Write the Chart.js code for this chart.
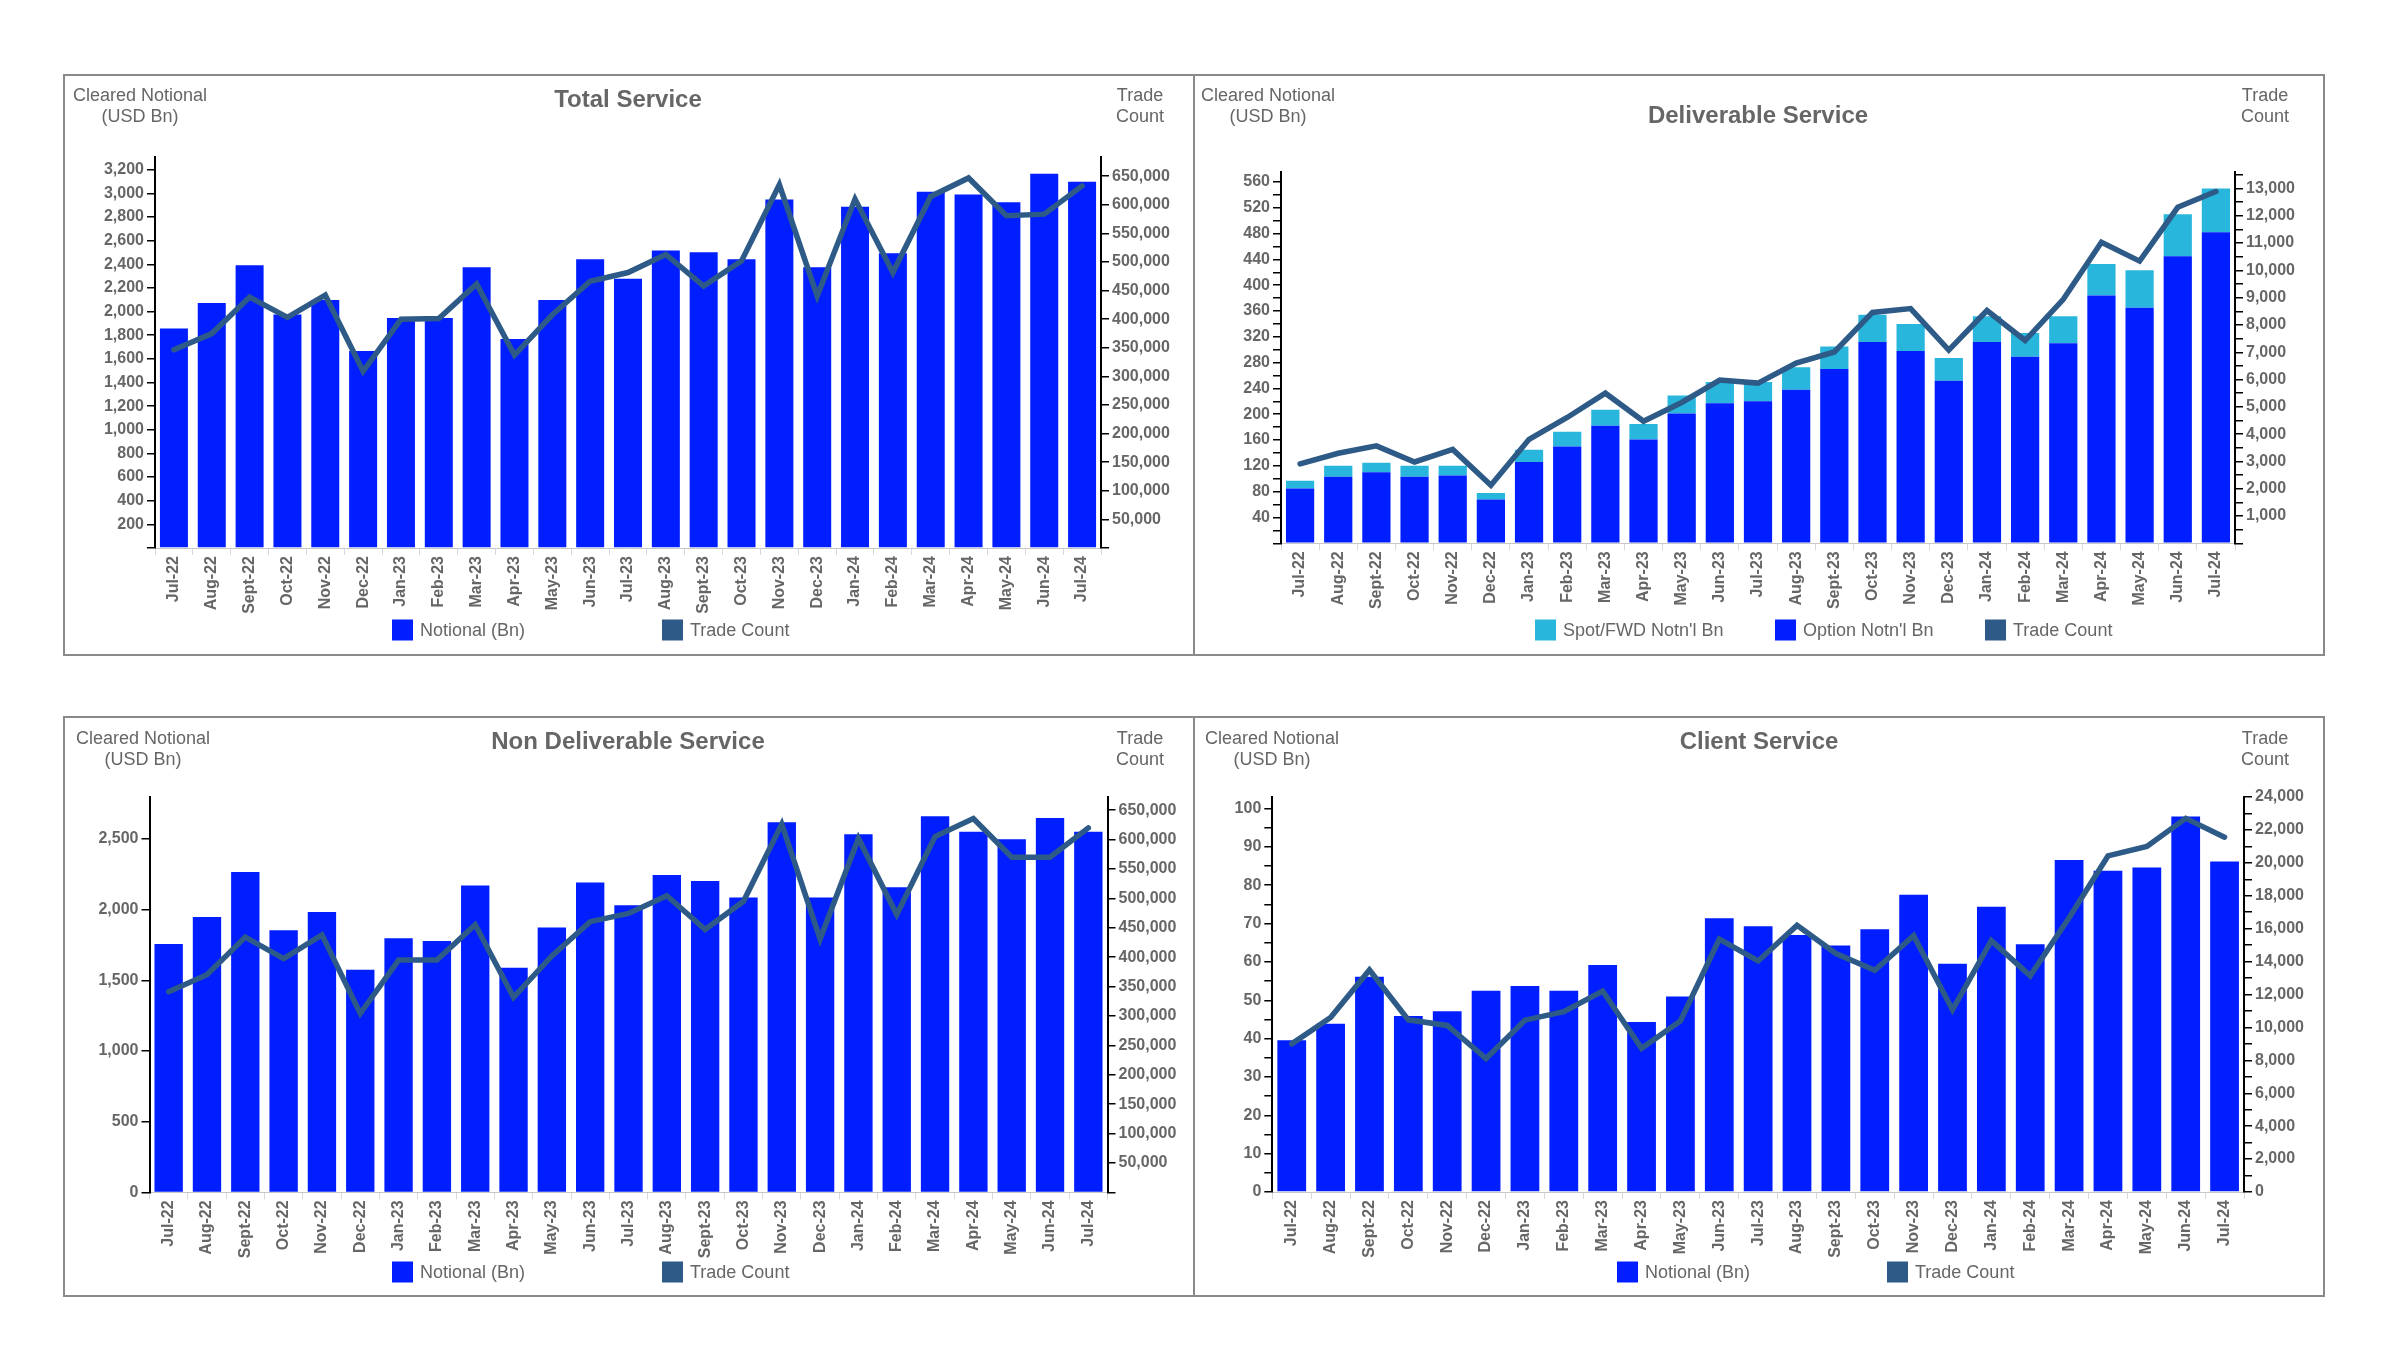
<!DOCTYPE html>
<html>
<head>
<meta charset="utf-8">
<script src="https://cdn.jsdelivr.net/npm/chart.js@4.4.1/dist/chart.umd.min.js"></script>
<style>
  html, body { margin: 0; padding: 0; background: #fff; }
  body { width: 2400px; height: 1350px; position: relative; overflow: hidden; font-family: "Liberation Sans", Arial, sans-serif; color: #666; }
  .panel { position: absolute; border: 2px solid #8a8a8a; box-sizing: border-box; }
  canvas { position: absolute; }
  .txt { position: absolute; white-space: nowrap; transform: translate(-50%, -50%); }
  .cap { font-size: 18px; line-height: 21px; text-align: center; }
  .title { font-size: 24px; font-weight: bold; }
  .lg { position: absolute; font-size: 18px; white-space: nowrap; transform: translateY(-50%); display: flex; align-items: center; }
  .lg i { display: inline-block; width: 21px; height: 21px; margin-right: 7px; }
</style>
</head>
<body>
<div class="panel" style="left:63px;top:74px;width:1132px;height:582px"></div>
<div class="panel" style="left:1193px;top:74px;width:1132px;height:582px"></div>
<div class="panel" style="left:63px;top:716px;width:1132px;height:581px"></div>
<div class="panel" style="left:1193px;top:716px;width:1132px;height:581px"></div>

<canvas id="totalChart"></canvas>
<canvas id="delivChart"></canvas>
<canvas id="ndfChart"></canvas>
<canvas id="clientChart"></canvas>

<!-- Total Service -->
<div class="txt cap" style="left:140px;top:106px">Cleared Notional<br>(USD Bn)</div>
<div class="txt title" style="left:628px;top:99px">Total Service</div>
<div class="txt cap" style="left:1140px;top:106px">Trade<br>Count</div>
<div class="lg" style="left:392px;top:630px"><i style="background:#001eff"></i>Notional (Bn)</div>
<div class="lg" style="left:662px;top:630px"><i style="background:#2d5a86"></i>Trade Count</div>

<!-- Deliverable Service -->
<div class="txt cap" style="left:1268px;top:106px">Cleared Notional<br>(USD Bn)</div>
<div class="txt title" style="left:1758px;top:115px">Deliverable Service</div>
<div class="txt cap" style="left:2265px;top:106px">Trade<br>Count</div>
<div class="lg" style="left:1535px;top:630px"><i style="background:#29b6dc"></i>Spot/FWD Notn'l Bn</div>
<div class="lg" style="left:1775px;top:630px"><i style="background:#001eff"></i>Option Notn'l Bn</div>
<div class="lg" style="left:1985px;top:630px"><i style="background:#2d5a86"></i>Trade Count</div>

<!-- Non Deliverable Service -->
<div class="txt cap" style="left:143px;top:749px">Cleared Notional<br>(USD Bn)</div>
<div class="txt title" style="left:628px;top:741px">Non Deliverable Service</div>
<div class="txt cap" style="left:1140px;top:749px">Trade<br>Count</div>
<div class="lg" style="left:392px;top:1272px"><i style="background:#001eff"></i>Notional (Bn)</div>
<div class="lg" style="left:662px;top:1272px"><i style="background:#2d5a86"></i>Trade Count</div>

<!-- Client Service -->
<div class="txt cap" style="left:1272px;top:749px">Cleared Notional<br>(USD Bn)</div>
<div class="txt title" style="left:1759px;top:741px">Client Service</div>
<div class="txt cap" style="left:2265px;top:749px">Trade<br>Count</div>
<div class="lg" style="left:1617px;top:1272px"><i style="background:#001eff"></i>Notional (Bn)</div>
<div class="lg" style="left:1887px;top:1272px"><i style="background:#2d5a86"></i>Trade Count</div>

<script>
  "use strict";

  // ====
  // Data
  // ====
  const MONTHS = [
    "Jul-22", "Aug-22", "Sept-22", "Oct-22", "Nov-22", "Dec-22",
    "Jan-23", "Feb-23", "Mar-23", "Apr-23", "May-23", "Jun-23",
    "Jul-23", "Aug-23", "Sept-23", "Oct-23", "Nov-23", "Dec-23",
    "Jan-24", "Feb-24", "Mar-24", "Apr-24", "May-24", "Jun-24", "Jul-24",
  ];

  const totalNotional = [1857, 2073, 2392, 1975, 2099, 1666, 1946, 1946, 2376, 1768, 2099, 2443, 2277, 2516, 2503, 2443, 2949, 2376, 2886, 2494, 3013, 2991, 2924, 3166, 3099];
  const totalTrades = [346500, 374900, 438800, 403200, 442000, 309000, 399900, 401200, 461800, 337300, 407800, 466400, 481600, 513200, 457900, 502000, 635100, 440700, 610000, 481600, 614700, 647000, 581000, 583700, 633100];

  const delivOption = [85, 103, 110, 103, 105, 68, 126, 150, 182, 161, 201, 217, 220, 238, 270, 312, 298, 252, 312, 289, 310, 384, 365, 445, 482];
  const delivSpot = [12, 17, 15, 17, 15, 10, 19, 23, 25, 24, 28, 33, 30, 35, 35, 42, 42, 35, 40, 37, 42, 49, 58, 65, 68];
  const delivTrades = [2910, 3300, 3570, 2980, 3440, 2130, 3810, 4610, 5500, 4470, 5160, 5980, 5870, 6600, 7010, 8460, 8600, 7080, 8530, 7430, 8940, 11030, 10340, 12310, 12890];

  const ndfNotional = [1756, 1947, 2266, 1854, 1982, 1575, 1798, 1777, 2171, 1588, 1873, 2192, 2030, 2245, 2202, 2085, 2617, 2085, 2532, 2157, 2660, 2551, 2498, 2647, 2551];
  const ndfTrades = [341300, 370200, 434200, 397700, 438000, 304200, 395100, 395100, 455300, 331700, 402200, 460400, 474500, 504600, 447000, 495000, 626300, 431000, 602000, 472600, 605200, 635900, 570000, 570000, 619900];

  const clientNotional = [39.6, 43.9, 56.1, 45.9, 47.1, 52.5, 53.7, 52.5, 59.2, 44.3, 51.0, 71.4, 69.3, 67.0, 64.3, 68.5, 77.5, 59.5, 74.4, 64.6, 86.6, 83.8, 84.6, 97.9, 86.2];
  const clientTrades = [9000, 10600, 13490, 10460, 10120, 8110, 10440, 10960, 12210, 8730, 10390, 15360, 14040, 16200, 14490, 13470, 15570, 11070, 15270, 13130, 16660, 20420, 20990, 22700, 21560];

  // axis ranges: tick step, labelled step, first labelled value
  const totalLeftAxis = { max: 3312, step: 200, labelStep: 200, labelFrom: 200 };
  const totalRightAxis = { max: 684500, step: 50000, labelStep: 50000, labelFrom: 50000 };
  const delivLeftAxis = { max: 576, step: 20, labelStep: 40, labelFrom: 40 };
  const delivRightAxis = { max: 13619, step: 500, labelStep: 1000, labelFrom: 1000 };
  const ndfLeftAxis = { max: 2796, step: 500, labelStep: 500, labelFrom: 0 };
  const ndfRightAxis = { max: 672400, step: 50000, labelStep: 50000, labelFrom: 50000 };
  const clientLeftAxis = { max: 103, step: 5, labelStep: 10, labelFrom: 0 };
  const clientRightAxis = { max: 24000, step: 1000, labelStep: 2000, labelFrom: 0 };

  // ======
  // Styles
  // ======
  const BAR_BLUE = "#001eff";
  const SPOT_CYAN = "#29b6dc";
  const LINE_BLUE = "#2d5a86";
  const TICK_FONT = { family: '"Liberation Sans", Arial, sans-serif', size: 16, weight: "bold" };
  const TICK_COLOR = "#666";

  // ===============
  // Chart Rendering
  // ===============
  const stepValues = (step, max) => {
    const out = [];
    for (let v = 0; v <= max + 1e-9; v += step) out.push(Math.round(v * 1000) / 1000);
    return out;
  };

  const axisOptions = (position, ax, width, stacked) => ({
    position: position,
    stacked: stacked,
    bounds: "data",
    min: 0,
    max: ax.max,
    afterBuildTicks: (scale) => {
      scale.ticks = stepValues(ax.step, ax.max).map((v) => ({ value: v }));
    },
    afterFit: (scale) => {
      scale.width = width;
    },
    grid: { drawOnChartArea: false, drawTicks: true, tickLength: 8, color: "#000", lineWidth: 1.5 },
    border: { display: true, color: "#000", width: 2 },
    ticks: {
      autoSkip: false,
      padding: 3,
      color: TICK_COLOR,
      font: TICK_FONT,
      callback: (value) => {
        const rel = (value - ax.labelFrom) / ax.labelStep;
        if (value < ax.labelFrom || Math.abs(rel - Math.round(rel)) > 1e-6) return "";
        return value.toLocaleString("en-US");
      },
    },
  });

  const drawPanel = (canvasId, box, area, datasets, leftAxis, rightAxis, stacked) => {
    const cv = document.getElementById(canvasId);
    cv.style.left = box.x + "px";
    cv.style.top = box.y + "px";
    cv.width = box.w;
    cv.height = box.h;

    const leftW = area.left - box.x;
    const rightW = box.x + box.w - area.right;
    const topPad = area.top - box.y;
    const bottomH = box.y + box.h - area.bottom;

    new Chart(cv, {
      type: "bar",
      data: { labels: MONTHS, datasets: datasets },
      options: {
        responsive: false,
        animation: false,
        devicePixelRatio: 1,
        layout: { padding: { top: topPad, left: 0, right: 0, bottom: 0 } },
        plugins: { legend: { display: false }, tooltip: { enabled: false } },
        scales: {
          x: {
            stacked: stacked,
            offset: true,
            grid: { offset: true, drawOnChartArea: false, drawTicks: true, tickLength: 7, color: "#d9d9d9", lineWidth: 1 },
            border: { display: true, color: "#c8c8c8", dash: [4, 3], width: 1 },
            ticks: { autoSkip: false, minRotation: 90, maxRotation: 90, padding: 1, color: TICK_COLOR, font: TICK_FONT },
            afterFit: (scale) => {
              scale.height = bottomH;
            },
          },
          y: axisOptions("left", leftAxis, leftW, stacked),
          y1: axisOptions("right", rightAxis, rightW, false),
        },
      },
    });
  };

  const tradeLine = (data) => ({
    type: "line",
    label: "Trade Count",
    data: data,
    yAxisID: "y1",
    borderColor: LINE_BLUE,
    backgroundColor: LINE_BLUE,
    borderWidth: 5.5,
    pointRadius: 0,
    tension: 0,
    borderCapStyle: "round",
    order: 0,
  });

  const notionalBars = (label, data, color, order) => ({
    type: "bar",
    label: label,
    data: data,
    yAxisID: "y",
    backgroundColor: color,
    borderWidth: 0,
    barPercentage: 0.74,
    categoryPercentage: 1,
    order: order,
  });

  drawPanel(
    "totalChart",
    { x: 65, y: 76, w: 1128, h: 578 },
    { left: 155, right: 1101, top: 156.5, bottom: 548 },
    [tradeLine(totalTrades), notionalBars("Notional (Bn)", totalNotional, BAR_BLUE, 1)],
    totalLeftAxis,
    totalRightAxis,
    false,
  );

  drawPanel(
    "delivChart",
    { x: 1195, y: 76, w: 1128, h: 578 },
    { left: 1281, right: 2235, top: 171.6, bottom: 543.3 },
    [
      tradeLine(delivTrades),
      notionalBars("Option Notn'l Bn", delivOption, BAR_BLUE, 1),
      notionalBars("Spot/FWD Notn'l Bn", delivSpot, SPOT_CYAN, 2),
    ],
    delivLeftAxis,
    delivRightAxis,
    true,
  );

  drawPanel(
    "ndfChart",
    { x: 65, y: 718, w: 1128, h: 577 },
    { left: 149.5, right: 1107.5, top: 797, bottom: 1192.4 },
    [tradeLine(ndfTrades), notionalBars("Notional (Bn)", ndfNotional, BAR_BLUE, 1)],
    ndfLeftAxis,
    ndfRightAxis,
    false,
  );

  drawPanel(
    "clientChart",
    { x: 1195, y: 718, w: 1128, h: 577 },
    { left: 1272.3, right: 2244, top: 797, bottom: 1192 },
    [tradeLine(clientTrades), notionalBars("Notional (Bn)", clientNotional, BAR_BLUE, 1)],
    clientLeftAxis,
    clientRightAxis,
    false,
  );
</script>
</body>
</html>
